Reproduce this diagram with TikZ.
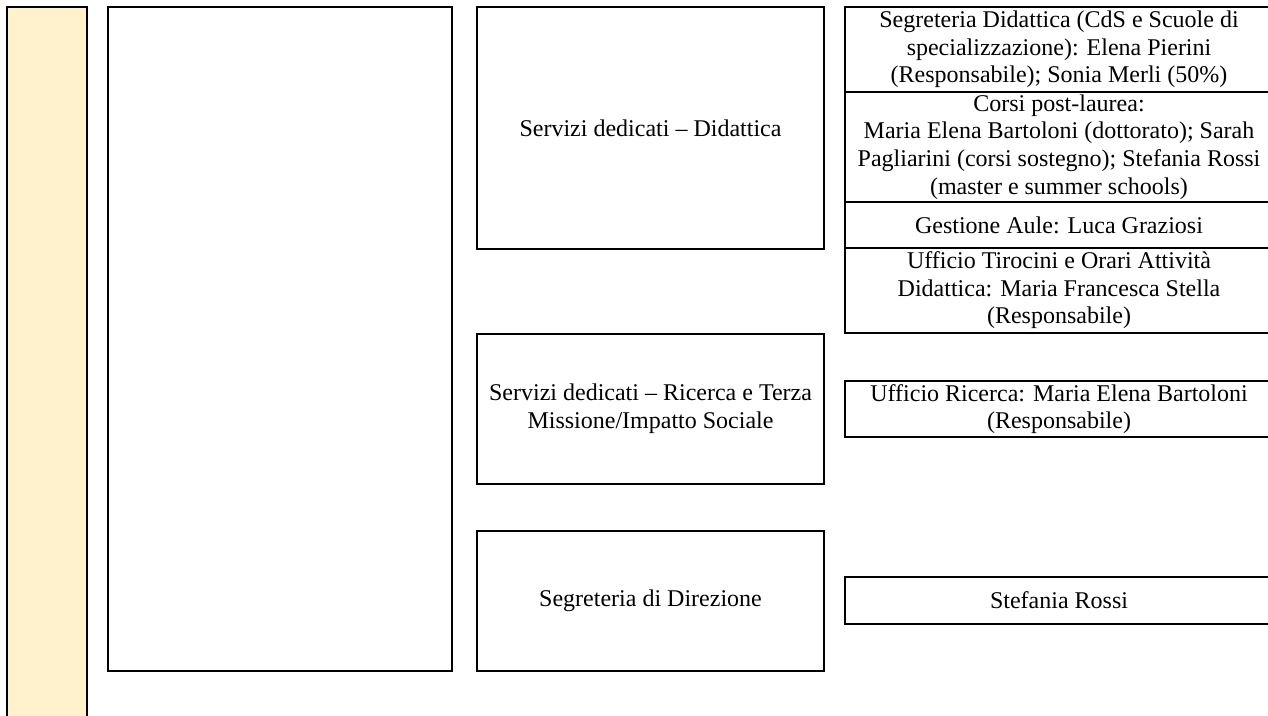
\documentclass[tikz,border=0pt]{standalone}
\usepackage{fontspec}
\setmainfont{Liberation Serif}
\usetikzlibrary{positioning}
\definecolor{sidebar}{HTML}{FFF2CC}
\def\px{0.5pt}
\tikzset{
  unit/.style={rectangle, draw=black, line width=0.65pt, outer sep=0pt, inner xsep=2pt, inner ysep=0pt,
    align=center, anchor=north west, font=\fontsize{12}{13.8}\selectfont},
  service/.style={unit, minimum width=347*\px},
  office/.style={unit, minimum width=428*\px}
}
\begin{document}
\begin{tikzpicture}[x=\px, y=-\px]
  \useasboundingbox (0,0) rectangle (1268,716);
  \clip (0,0) rectangle (1268,716);

  % side bar and main frame
  \node[unit, fill=sidebar, minimum width=80*\px, minimum height=730*\px] (Bar) at (7,7) {};
  \node[unit, minimum width=344*\px, minimum height=664*\px] (Frame) at (108,7) {};

  % services
  \node[service, minimum height=242*\px] (Didattica) at (477,7) {Servizi dedicati – Didattica};
  \node[service, minimum height=150*\px] (Ricerca) at (477,334)
    {Servizi dedicati – Ricerca e Terza\\Missione/Impatto Sociale};
  \node[service, minimum height=140*\px] (Direzione) at (477,531) {Segreteria di Direzione};

  % offices of the Didattica service, stacked
  \node[office, minimum height=85*\px] (SegDid) at (845,7)
    {Segreteria Didattica (CdS e Scuole di\\specializzazione): Elena Pierini\\(Responsabile); Sonia Merli (50\%)};
  \node[office, minimum height=110*\px, below=0pt of SegDid.south west, anchor=north west] (PostLaurea)
    {Corsi post-laurea:\\Maria Elena Bartoloni (dottorato); Sarah\\Pagliarini (corsi sostegno); Stefania Rossi\\(master e summer schools)};
  \node[office, minimum height=46*\px, below=0pt of PostLaurea.south west, anchor=north west] (Aule)
    {Gestione Aule: Luca Graziosi};
  \node[office, minimum height=85*\px, below=0pt of Aule.south west, anchor=north west] (Tirocini)
    {Ufficio Tirocini e Orari Attività\\Didattica: Maria Francesca Stella\\(Responsabile)};

  % other offices
  \node[office, minimum height=56*\px] (UffRicerca) at (845,381)
    {Ufficio Ricerca: Maria Elena Bartoloni\\(Responsabile)};
  \node[office, minimum height=47*\px] (Rossi) at (845,577) {Stefania Rossi};
\end{tikzpicture}
\end{document}
